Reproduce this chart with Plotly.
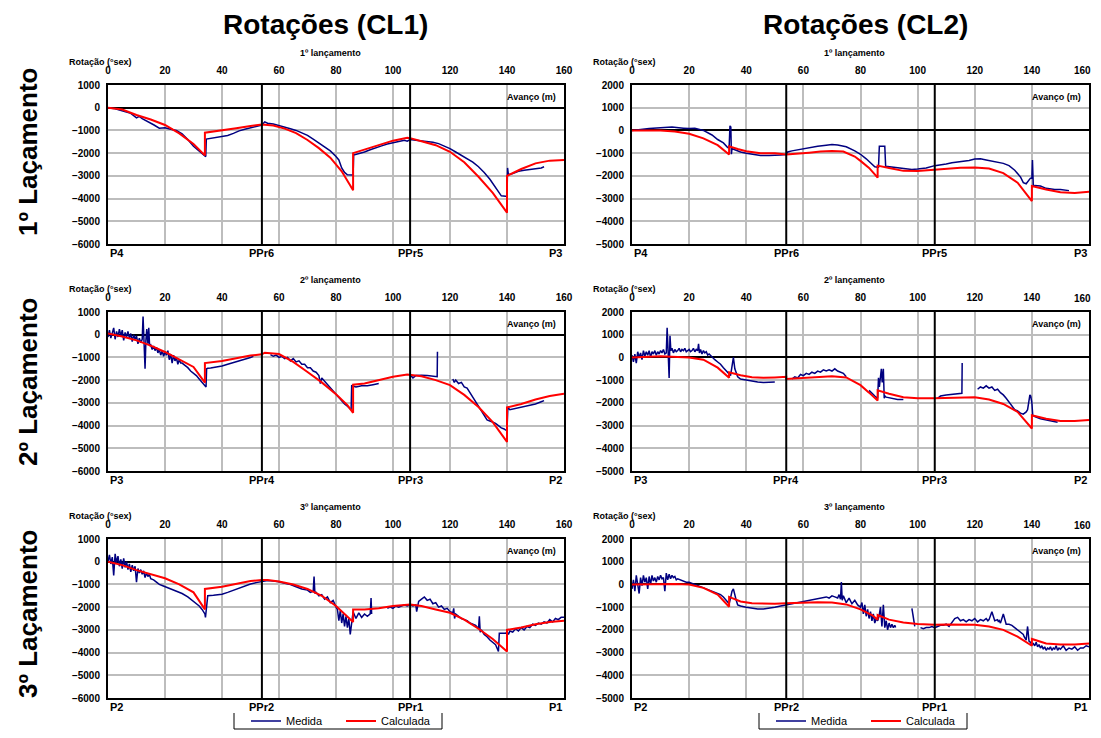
import plotly.graph_objects as go

# ---------------- data ----------------
X_TICKS = [0, 20, 40, 60, 80, 100, 120, 140, 160]
PIER_X = [0, 54, 106, 160]
PIER_LABELS = [["P4", "PPr6", "PPr5", "P3"],
               ["P3", "PPr4", "PPr3", "P2"],
               ["P2", "PPr2", "PPr1", "P1"]]
COL_TITLES = ["Rotações (CL1)", "Rotações (CL2)"]
ROW_TITLES = ["1º Laçamento", "2º Laçamento", "3º Laçamento"]
PANEL_TITLES = ["1º lançamento", "2º lançamento", "3º lançamento"]
Y_RANGE_CL1 = [-6000, 1000]
Y_RANGE_CL2 = [-5000, 2000]

# Panel 1: 1º lançamento, CL1
calc1_x = [0, 5, 10, 15, 20, 25, 30, 34, 34, 40, 45, 50, 54, 58, 62, 66, 70, 74, 78, 82, 86, 86, 90, 95, 100, 105,
           106, 110, 115, 120, 125, 130, 135, 140, 140, 145, 150, 155, 160]
calc1_y = [0, -80, -320, -520, -760, -1130, -1600, -2100, -1100, -1000, -900, -800, -740, -780, -920, -1120, -1420,
           -1780, -2200, -2800, -3630, -2000, -1850, -1640, -1450, -1320, -1340, -1480, -1650, -1940, -2400, -3040,
           -3750, -4620, -3000, -2700, -2450, -2330, -2300]
meas1_x = [0, 2, 4, 6, 8, 10, 11, 12, 14, 16, 18, 20, 22, 24, 26, 28, 30, 32, 34, 34.3, 34.5, 36, 38, 40, 42, 44, 46,
           48, 50, 52, 54, 55, 56, 58, 60, 62, 64, 66, 68, 70, 72, 74, 76, 78, 80, 81, 82, 83, 84, 85, 86, 86.2, 88,
           90, 92, 94, 96, 98, 100, 102, 104, 105, 106, 108, 110, 112, 114, 116, 118, 120, 122, 124, 126, 128, 130,
           132, 134, 136, 138, 139.5, 140, 140.2, 140.5, 142, 144, 146, 148, 150, 152, 153]
meas1_y = [0, -30, -100, -180, -250, -450, -380, -480, -600, -750, -900, -880, -950, -1000, -1150, -1400, -1700,
           -1900, -2120, -2150, -1380, -1350, -1330, -1280, -1220, -1130, -1020, -950, -880, -820, -760, -620, -680,
           -720, -780, -850, -930, -1000, -1100, -1220, -1380, -1550, -1720, -1900, -2150, -2300, -2650, -2850,
           -2950, -2960, -2960, -2080, -2020, -1950, -1850, -1750, -1680, -1600, -1550, -1480, -1430, -1470, -1400,
           -1430, -1450, -1480, -1520, -1580, -1680, -1800, -1950, -2100, -2250, -2400, -2600, -2850, -3150, -3500,
           -3880, -3900, -3900, -2650, -2950, -2900, -2800, -2750, -2720, -2700, -2650, -2600]

# Panel 2: 1º lançamento, CL2
calc2_x = [0, 10, 15, 20, 25, 30, 34, 34, 37, 40, 45, 50, 54, 58, 62, 66, 70, 74, 78, 80, 83, 86, 86, 90, 95, 100,
           106, 110, 115, 120, 125, 130, 135, 140, 140, 145, 150, 155, 160]
calc2_y = [0, 0, -50, -150, -350, -650, -1060, -700, -820, -920, -1000, -1010, -1060, -1030, -980, -930, -910, -930,
           -1150, -1340, -1650, -2080, -1550, -1650, -1780, -1790, -1730, -1680, -1640, -1630, -1680, -1880, -2300,
           -3110, -2450, -2600, -2720, -2750, -2700]
meas2_x = [0, 3, 6, 10, 14, 18, 20, 22, 25, 28, 30, 32, 33.5, 34, 34.3, 34.6, 34.8, 35, 36, 38, 40, 42, 45, 48, 50,
           52, 54, 54.5, 56, 58, 60, 62, 65, 68, 70, 72, 75, 78, 80, 82, 84, 85, 86, 86.3, 86.6, 88, 88.5, 88.8, 90,
           92, 95, 98, 100, 103, 106, 108, 110, 112, 115, 118, 120, 122, 124, 126, 128, 130, 132, 134, 136, 137, 138,
           139.5, 140, 140.2, 140.5, 141, 143, 145, 148, 150, 153]
meas2_y = [0, 50, 80, 120, 150, 100, 80, 100, 0, -200, -400, -550, -750, -760, 200, 150, -1050, -800, -850, -950,
           -1000, -1050, -1100, -1100, -1100, -1080, -1060, -950, -900, -850, -800, -760, -700, -650, -620, -640,
           -720, -900, -1050, -1250, -1500, -1600, -1620, -1620, -700, -690, -700, -1580, -1600, -1650, -1700, -1720,
           -1700, -1650, -1550, -1520, -1480, -1420, -1380, -1320, -1260, -1250, -1300, -1350, -1380, -1450, -1550,
           -1750, -2050, -2300, -2350, -2100, -2100, -1300, -2450, -2430, -2450, -2550, -2600, -2600, -2650]

# Panel 3: 2º lançamento, CL1
calc3_x = [0, 5, 10, 15, 20, 25, 30, 34, 34, 40, 45, 50, 54, 55, 60, 65, 70, 75, 80, 84, 86, 86, 90, 95, 100, 105,
           110, 115, 120, 125, 130, 135, 140, 140, 145, 150, 155, 160]
calc3_y = [50, -80, -250, -480, -760, -1100, -1420, -2110, -1250, -1160, -1030, -920, -860, -790, -850, -1200, -1640,
           -2100, -2620, -3100, -3440, -2200, -2150, -2000, -1850, -1750, -1830, -2000, -2220, -2650, -3180, -3850,
           -4720, -3200, -3050, -2850, -2700, -2600]
meas3_x = [0, 0.5, 1, 1.5, 2, 2.5, 3, 3.5, 4, 4.5, 5, 5.5, 6, 6.5, 7, 7.5, 8, 8.5, 9, 9.5, 10, 10.5, 11, 11.5, 12,
           12.3, 12.6, 13, 13.3, 13.6, 14, 14.3, 14.6, 15, 15.5, 16, 16.5, 17, 17.5, 18, 18.5, 19, 19.5, 20, 20.5, 21,
           21.5, 22, 22.5, 23, 23.5, 24, 24.5, 25, 25.5, 26, 27, 28, 29, 30, 31, 32, 33, 34, 34.4, 34.6, 35, 36, 38,
           40, 42, 44, 46, 48, 50, 51, None,
           57, 58, 59, 60, 61, 62, 63, 64, 65, 66, 67, 68, 69, 70, 71, 72, 73, 74, 74.5, 75, 76, 77, 78, 79, 80, 81,
           82, 83, 84, 85, 85.3, 85.5, 87, 89, 91, 93, 95, None,
           106, 107, 108, 110, 112, 114, 115, 115.5, 115.6, None,
           121, 121.5, 122, 123, 124, 125, 126, 127, 128, 129, 130, 131, 132, 133, 134, 135, 136, 137, 138, 139,
           139.5, 140, 140.3, 141, 143, 145, 147, 150, 152, 153]
meas3_y = [-100, 200, -150, 100, 300, -200, 150, -100, 250, -50, 200, -250, 100, -100, 150, -150, 50, -300, 0, -200,
           -50, -400, -150, -350, -200, 800, -300, -1500, -250, 250, -400, 300, -500, -450, -650, -500, -700, -550,
           -800, -650, -900, -700, -950, -750, -900, -700, -1100, -850, -1250, -900, -1150, -1000, -1300, -1100,
           -1250, -1250, -1350, -1450, -1600, -1700, -1800, -1950, -2100, -2200, -2300, -1500, -1480, -1470, -1430,
           -1380, -1300, -1230, -1150, -1070, -1000, -950, None,
           -880, -950, -900, -1000, -950, -1050, -1000, -1150, -1050, -1200, -1150, -1300, -1300, -1450, -1450,
           -1600, -1650, -1800, -2150, -1900, -2050, -2200, -2350, -2500, -2650, -2800, -2950, -3050, -3150, -3280,
           -3300, -2250, -2300, -2250, -2250, -2200, -2150, None,
           -1760, -1900, -1800, -1780, -1800, -1820, -1850, -1850, -750, None,
           -1950, -2100, -2000, -2150, -2100, -2300, -2350, -2550, -2700, -2900, -3100, -3300, -3500, -3750, -3800,
           -3850, -3900, -4000, -4100, -4150, -4200, -4200, -3200, -3300, -3250, -3200, -3150, -3050, -2950, -2900]

# Panel 4: 2º lançamento, CL2
calc4_x = [0, 10, 20, 25, 30, 34, 34, 38, 42, 46, 50, 54, 54, 60, 65, 70, 75, 80, 83, 86, 86, 90, 95, 100, 106, 110,
           115, 120, 125, 130, 135, 140, 140, 145, 150, 155, 160]
calc4_y = [0, 50, 0, -100, -450, -900, -650, -780, -870, -900, -880, -850, -950, -900, -840, -830, -880, -1220,
           -1550, -1900, -1450, -1600, -1750, -1800, -1800, -1780, -1760, -1750, -1850, -2050, -2400, -3130, -2550,
           -2700, -2800, -2800, -2750]
meas4_x = [0, 0.5, 1, 1.5, 2, 2.5, 3, 3.5, 4, 4.5, 5, 5.5, 6, 6.5, 7, 7.5, 8, 8.5, 9, 9.5, 10, 10.5, 11, 11.5, 12,
           12.3, 12.6, 13, 13.3, 13.6, 14, 14.5, 15, 15.5, 16, 16.5, 17, 17.5, 18, 18.5, 19, 19.5, 20, 20.5, 21, 21.5,
           22, 22.5, 23, 23.3, 23.6, 24, 24.5, 25, 25.5, 26, 26.5, 27, 28, 29, 30, 31, 32, 33, 34, 34.5, 35, 35.5, 36,
           36.5, 37, 38, 40, 42, 44, 46, 48, 50, None,
           56, 57, 58, 59, 60, 61, 62, 63, 64, 65, 66, 67, 68, 69, 70, 71, 72, 73, 74, 75, None,
           83, 84, 85, 86, 86.3, 86.6, 87, 87.3, 87.6, 88, 88.3, 88.6, 89, 91, 93, 95, None,
           107, 108, 110, 112, 114, 115.5, 115.6, None,
           121, 122, 123, 124, 125, 126, 127, 128, 129, 130, 131, 132, 133, 134, 135, 136, 137, 138, 138.5, 139,
           139.3, 139.6, 140, 140.3, 141, 143, 145, 147, 149]
meas4_y = [100, -200, 150, -250, 250, 0, 200, -100, 300, 50, 250, 100, 300, 0, 250, 150, 300, 100, 250, 150, 300,
           200, 350, 150, 200, 1300, 400, -900, 950, 300, 400, 200, 350, 250, 300, 400, 250, 350, 300, 400, 250, 300,
           350, 250, 300, 400, 250, 350, 300, 600, 200, 350, 150, 300, 200, 250, 100, 150, 0, -100, -200, -300, -450,
           -600, -750, -800, -400, 0, -500, -700, -850, -950, -1000, -1050, -1080, -1100, -1100, -1080, None,
           -950, -850, -900, -750, -800, -700, -750, -650, -700, -600, -650, -550, -600, -550, -600, -500, -600,
           -650, -700, -850, None,
           -1450, -1600, -1700, -1800, -900, -1300, -700, -500, -1100, -500, -1800, -1700, -1750, -1800, -1850,
           -1850, None,
           -1800, -1700, -1650, -1620, -1600, -1580, -250, None,
           -1400, -1300, -1350, -1250, -1350, -1300, -1450, -1400, -1550, -1650, -1800, -1950, -2150, -2300, -2350,
           -2450, -2500, -2400, -2300, -1900, -1650, -1700, -2000, -2550, -2600, -2700, -2750, -2800, -2850]

# Panel 5: 3º lançamento, CL1
calc5_x = [0, 5, 10, 15, 20, 25, 30, 34, 34, 40, 45, 50, 54, 56, 60, 65, 70, 75, 80, 84, 86, 86, 90, 95, 100, 106,
           110, 115, 120, 125, 130, 135, 140, 140, 145, 150, 155, 160]
calc5_y = [0, -150, -370, -550, -730, -1000, -1350, -2100, -1200, -1100, -970, -850, -800, -800, -870, -1000, -1200,
           -1500, -1950, -2400, -2650, -2100, -2100, -2050, -1950, -1880, -1950, -2100, -2250, -2550, -2950, -3400,
           -3950, -3000, -2900, -2750, -2650, -2600]
meas5_x = [0, 0.5, 1, 1.5, 2, 2.5, 3, 3.5, 4, 4.5, 5, 5.5, 6, 6.5, 7, 7.5, 8, 8.5, 9, 9.5, 10, 10.5, 11, 11.5, 12,
           12.5, 13, 13.5, 14, 14.5, 15, 16, 17, 18, 19, 20, 22, 24, 26, 28, 30, 32, 33, 34, 34.2, 35, 37, 40, 42, 44,
           46, 48, 50, 52, 54, 56, 58, 60, 62, 64, 66, 68, 70, 71, 72, 72.3, 72.6, 73, 74, 75, 76, 77, 78, 79, 80,
           80.5, 81, 81.5, 82, 82.5, 83, 83.5, 84, 84.5, 85, 85.3, 85.6, 86, 86.5, 87, 88, 89, 90, 91, 92, 92.3, 92.5,
           None,
           98, 99, 100, 101, 102, 103, 104, 105, 106, 107, 108, 108.3, 108.6, 109, 110, 111, 112, 113, 114, 115, 116,
           117, 118, 119, 120, 121, 121.3, 121.6, 122, 123, 124, 125, 126, 127, 128, 129, 130, 130.3, 130.6, 131, 132,
           133, 134, 135, 136, 137, 137.3, 138, 139, 139.5, 140, 140.5, 141, 142, 143, 144, 145, 146, 147, 148, 149,
           150, 151, 152, 153, 154, 155, 156, 157, 158, 159, 160]
meas5_y = [0, 300, -100, 200, -600, 350, -50, 250, -200, 100, -300, 150, -250, 0, -350, -100, -450, -150, -400, -200,
           -900, -300, -500, -350, -550, -400, -700, -500, -650, -550, -750, -800, -900, -1000, -1050, -1100, -1200,
           -1300, -1400, -1550, -1750, -1950, -2100, -2300, -2450, -1500, -1480, -1430, -1350, -1250, -1150, -1050,
           -980, -920, -880, -830, -850, -880, -950, -1000, -1100, -1200, -1250, -1350, -1300, -650, -1400, -1350,
           -1500, -1450, -1650, -1550, -1800, -1700, -2000, -2100, -2600, -2150, -2700, -2300, -2850, -2400, -2900,
           -2500, -3200, -2700, -2600, -2200, -2400, -2500, -2250, -2450, -2300, -2400, -2300, -1600, -2300, None,
           -2050, -2000, -2050, -1950, -2000, -1950, -1900, -1950, -1900, -1950, -1900, -2200, -1900, -1750, -1650,
           -1550, -1700, -1650, -1850, -1800, -2000, -1950, -2100, -2050, -2200, -2250, -2050, -2500, -2300, -2400,
           -2500, -2550, -2600, -2700, -2750, -2800, -2950, -2400, -3100, -3000, -3200, -3300, -3450, -3550, -3650,
           -3950, -3150, -3150, -3150, -3150, -3100, -3200, -3050, -3100, -2950, -3050, -2900, -3000, -2850, -2900,
           -2750, -2800, -2700, -2750, -2650, -2700, -2550, -2650, -2500, -2550, -2450, -2450]

# Panel 6: 3º lançamento, CL2
calc6_x = [0, 10, 15, 20, 25, 30, 34, 34, 38, 42, 46, 50, 54, 60, 65, 70, 75, 80, 84, 86, 86, 90, 95, 100, 106, 110,
           115, 120, 125, 130, 135, 140, 140, 145, 150, 155, 160]
calc6_y = [0, 20, 20, 0, -150, -450, -980, -550, -750, -830, -850, -850, -830, -800, -790, -800, -880, -1100, -1350,
           -1550, -1350, -1550, -1680, -1740, -1780, -1760, -1760, -1780, -1850, -2000, -2300, -2700, -2400, -2600,
           -2650, -2650, -2600]
meas6_x = [0, 0.5, 1, 1.5, 2, 2.5, 3, 3.5, 4, 4.5, 5, 5.5, 6, 6.5, 7, 7.5, 8, 8.5, 9, 9.5, 10, 10.5, 11, 11.5, 12,
           12.5, 13, 13.5, 14, 14.5, 15, 15.5, 16, 17, 18, 19, 20, 22, 24, 26, 28, 30, 31, 32, 33, 34, 34.5, 35, 35.5,
           36, 36.5, 37, 38, 40, 42, 44, 46, 48, 50, 52, 54, 56, 58, 60, 62, 64, 66, 68, 69, 70, 71, 72, 72.5, 73,
           73.3, 73.6, 74, 75, 76, 77, 78, 79, 80, 80.5, 81, 81.5, 82, 82.5, 83, 83.5, 84, 84.5, 85, 85.5, 86, 86.5,
           87, 87.5, 88, 88.5, 89, 89.5, 90, 90.5, 91, 91.5, 92, 92.3, None,
           98, 99, 100, 101, 102, 103, 104, 105, 106, 107, 108, 109, 110, 111, 112, 113, 114, 115, 116, 117, 118, 119,
           120, 121, 122, 123, 124, 124.3, 124.6, 125, 126, 127, 128, 128.3, 128.6, 129, 130, 131, 132, 133, 134, 135,
           136, 137, 137.3, 137.6, 138, 138.5, 139, 139.5, 140, 140.5, 141, 141.5, 142, 142.5, 143, 143.5, 144, 144.5,
           145, 145.5, 146, 146.5, 147, 147.5, 148, 148.5, 149, 149.5, 150, 151, 152, 153, 154, 155, 156, 157, 158,
           159, 160]
meas6_y = [-200, 200, -300, 400, 0, -400, 300, -50, 400, 100, 300, -200, 350, 0, 400, 150, 300, 100, 350, 200, 400,
           250, 300, -300, 500, 200, 450, 250, 400, 300, 350, 200, 250, 200, 150, 100, 100, 0, -100, -200, -300, -400,
           -450, -550, -700, -850, -600, -300, -200, -500, -700, -900, -950, -1000, -1050, -1080, -1080, -1050, -1000,
           -950, -900, -850, -800, -750, -700, -650, -600, -550, -600, -500, -550, -600, -450, -650, 100, -700, -500,
           -800, -600, -850, -700, -900, -1000, -800, -1300, -900, -1400, -1100, -1500, -1200, -1600, -1300, -1700,
           -1500, -1600, -1400, -1000, -1850, -900, -1900, -1600, -2000, -1700, -1900, -1750, -1900, -1800, -1900,
           -1800, -1050, -1850, None,
           -1900, -1950, -1900, -1900, -1850, -1900, -1850, -1800, -1800, -1750, -1850, -1700, -1500, -1450, -1600,
           -1550, -1650, -1550, -1600, -1500, -1650, -1550, -1600, -1500, -1550, -1600, -1550, -1200, -1600, -1550,
           -1650, -1600, -1700, -1300, -1750, -1750, -1800, -1900, -2000, -2100, -2200, -2300, -2350, -2450, -1850,
           -2500, -2550, -2650, -2600, -2700, -2550, -2750, -2650, -2800, -2700, -2850, -2750, -2900, -2800, -2850,
           -2750, -2900, -2800, -2850, -2700, -2900, -2800, -2850, -2700, -2900, -2800, -2850, -2750, -2900, -2800,
           -2800, -2700, -2750, -2700, -2700, -2700]

PANELS = [  # (row, col, calc_x, calc_y, meas_x, meas_y)
    (0, 0, calc1_x, calc1_y, meas1_x, meas1_y),
    (0, 1, calc2_x, calc2_y, meas2_x, meas2_y),
    (1, 0, calc3_x, calc3_y, meas3_x, meas3_y),
    (1, 1, calc4_x, calc4_y, meas4_x, meas4_y),
    (2, 0, calc5_x, calc5_y, meas5_x, meas5_y),
    (2, 1, calc6_x, calc6_y, meas6_x, meas6_y),
]

# ---------------- layout ----------------
OFF = 8                      # page body margin of the html page
W, H = 1101 - 2 * OFF, 738 - 2 * OFF


def px2x(px):
    return (px - OFF) / W


def py2y(py):
    return 1 - (py - OFF) / H


COL_PX = [(108, 564), (632, 1089)]
ROW_PX = [(85, 244), (312, 471), (539, 698)]
LEG_PX = [234, 759]
BLUE = "#000080"
RED = "#ff0000"
GRID = "#bdbdbd"
FONT = "Liberation Sans, Arial, sans-serif"
TICKFONT = dict(family=FONT, size=10, color="black", weight="bold")

fig = go.Figure()
layout = dict(width=W, height=H, margin=dict(l=0, r=0, t=0, b=0, autoexpand=False),
              paper_bgcolor="white", plot_bgcolor="white", showlegend=True)
annotations = []
shapes = []

for idx, (r, c, cx, cy, mx, my) in enumerate(PANELS):
    n = idx + 1
    xa = "x" if n == 1 else f"x{n}"
    ya = "y" if n == 1 else f"y{n}"
    xkey = "xaxis" if n == 1 else f"xaxis{n}"
    ykey = "yaxis" if n == 1 else f"yaxis{n}"
    leg = "legend" if c == 0 else "legend2"
    show = (r == 2)
    fig.add_trace(go.Scatter(x=mx, y=my, mode="lines", name="Medida", line=dict(color=BLUE, width=1.5),
                             xaxis=xa, yaxis=ya, legend=leg, showlegend=show, connectgaps=False))
    fig.add_trace(go.Scatter(x=cx, y=cy, mode="lines", name="Calculada", line=dict(color=RED, width=2),
                             xaxis=xa, yaxis=ya, legend=leg, showlegend=show))
    x0p, x1p = COL_PX[c]
    y0p, y1p = ROW_PX[r]
    yr = Y_RANGE_CL1 if c == 0 else Y_RANGE_CL2
    # right column: last tick label is placed as an annotation so it stays inside the page
    ticktext = [str(v) for v in X_TICKS]
    if c == 1:
        ticktext[-1] = ""
        annotations.append(dict(text=str(X_TICKS[-1]), x=1, xref="paper", y=1, yref=f"{ya} domain",
                                yshift=14, xanchor="right", yanchor="middle", showarrow=False,
                                font=TICKFONT))
    layout[xkey] = dict(domain=[px2x(x0p), px2x(x1p)], range=[0, 160], side="top", tickvals=X_TICKS,
                        ticktext=ticktext,
                        showgrid=True, gridcolor=GRID, gridwidth=1.5, showline=True, mirror=True,
                        linecolor="black", linewidth=2, ticks="", zeroline=False, anchor=ya,
                        automargin=False, ticklabelstandoff=5, tickfont=TICKFONT)
    layout[ykey] = dict(domain=[py2y(y1p), py2y(y0p)], range=yr, dtick=1000, showgrid=True,
                        gridcolor=GRID, gridwidth=1.5, showline=True, mirror=True, linecolor="black",
                        linewidth=2, ticks="", zeroline=True, zerolinecolor="black", zerolinewidth=2,
                        anchor=xa, automargin=False, ticklabelstandoff=4, tickfont=TICKFONT)
    # pier reference lines
    for px in PIER_X[1:3]:
        shapes.append(dict(type="line", xref=xa, yref=f"{ya} domain", x0=px, x1=px, y0=0, y1=1,
                           line=dict(color="black", width=2), layer="above"))
    # pier labels
    for k, (px, lab) in enumerate(zip(PIER_X, PIER_LABELS[r])):
        anchor = "left" if k == 0 else ("right" if k == 3 else "center")
        annotations.append(dict(text=lab, x=px, xref=xa, y=0, yref=f"{ya} domain", yanchor="top",
                                xanchor=anchor, yshift=-1, showarrow=False,
                                font=dict(family=FONT, size=11, color="black", weight="bold")))
    # panel title
    annotations.append(dict(text=PANEL_TITLES[r], x=0.5, xref=f"{xa} domain", y=1, yref=f"{ya} domain",
                            yshift=32, xshift=-6, showarrow=False, yanchor="middle",
                            font=dict(family=FONT, size=9, color="black", weight="bold")))
    # y axis title
    annotations.append(dict(text="Rotação (°sex)", x=0, xref=f"{xa} domain", y=1, yref=f"{ya} domain",
                            yshift=23, xshift=-8, showarrow=False, yanchor="middle", xanchor="center",
                            font=dict(family=FONT, size=9, color="black", weight="bold")))
    # x axis title
    annotations.append(dict(text="Avanço (m)", x=1, xref=f"{xa} domain", y=1, yref=f"{ya} domain",
                            yshift=-12, xshift=-6, showarrow=False, yanchor="middle", xanchor="right",
                            font=dict(family=FONT, size=9, color="black", weight="bold")))

for c, t in enumerate(COL_TITLES):
    annotations.append(dict(text=t, x=px2x([325, 865][c]), xref="paper", y=1, yref="paper",
                            showarrow=False, xanchor="center", yanchor="top", borderpad=0,
                            font=dict(family=FONT, size=28, color="black", weight="bold")))
for r, t in enumerate(ROW_TITLES):
    annotations.append(dict(text=t, x=px2x(28), xref="paper", y=py2y([152, 382, 614][r]), yref="paper",
                            showarrow=False, xanchor="center", yanchor="middle", textangle=-90,
                            font=dict(family=FONT, size=26, color="black", weight="bold")))

# legend frames (left, bottom and right sides)
LEG_TOP, LEG_BOT, LEG_MID = 713, 729, 721
for lx in LEG_PX:
    shapes.append(dict(type="path", xref="paper", yref="paper",
                       path=f"M {px2x(lx)},{py2y(LEG_TOP)} L {px2x(lx)},{py2y(LEG_BOT)} "
                            f"L {px2x(lx + 208)},{py2y(LEG_BOT)} L {px2x(lx + 208)},{py2y(LEG_TOP)}",
                       line=dict(color="black", width=1)))

layout["annotations"] = annotations
layout["shapes"] = shapes
leg_common = dict(orientation="h", yanchor="middle", y=py2y(LEG_MID), xanchor="left",
                  bgcolor="rgba(0,0,0,0)", borderwidth=0, font=dict(family=FONT, size=11, color="black"),
                  entrywidth=50, entrywidthmode="pixels", itemwidth=30, tracegroupgap=0)
layout["legend"] = dict(x=px2x(LEG_PX[0] + 12), **leg_common)
layout["legend2"] = dict(x=px2x(LEG_PX[1] + 12), **leg_common)
fig.update_layout(**layout)
fig.write_html("out.html")
